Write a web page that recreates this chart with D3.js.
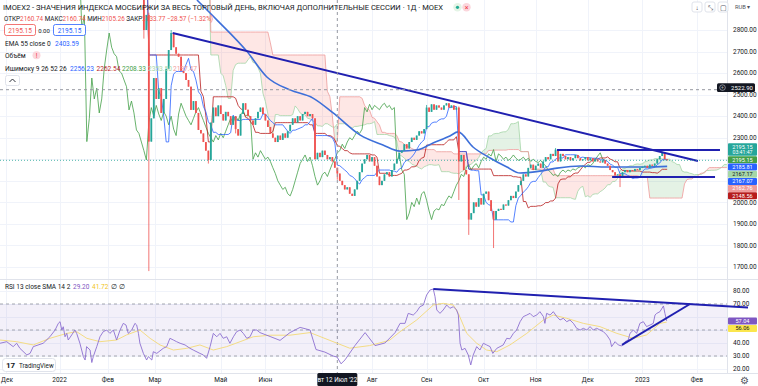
<!DOCTYPE html>
<html lang="ru">
<head>
<meta charset="UTF-8">
<title>IMOEX2 1Д</title>
<script src="https://d3js.org/d3.v7.min.js"></script>
<style>
  body { margin: 0; background: #fff; font-family: Roboto, "Noto Sans", sans-serif; }
  svg { display: block; }
  .ax { font-size: 6.5px; fill: #131722; }
</style>
</head>
<body>
<svg id="chart" width="758" height="386"></svg>
<script>
// daily closes, bar 0 = 1 Dec 2021 (bars before ~56 sit above the visible range)
const closes = [
  3920,3880,3850,3800,3770,3790,3720,3750,3800,3780,3740,3700,3690,3720,3760,3780,3790,3800,3820,3830,3800,3787,
  3850,3870,3880,3860,3840,3860,3880,3900,3800,3650,3500,3450,3300,3350,3250,3400,3450,3500,3480,
  3520,3550,3580,3600,3620,3640,3600,3650,3500,3450,3550,3600,3687,3300,3100,2800,2870,
  2282,2390,2577,2480,2530,2415,2480,2620,2707,2786,2720,2690,2676,2610,2600,2568,2537,2429,2470,2415,
  2336,2320,2280,2240,2197,2370,2440,2400,2450,2410,2380,2420,2400,2360,2400,2340,2310,2410,2460,2430,
  2400,2380,2360,2390,2420,2440,2410,2380,2350,2320,2300,2280,2310,2290,2320,2300,2330,2360,2390,2370,
  2400,2380,2410,2420,2400,2410,2390,2200,2230,2210,2240,2220,2200,2210,2190,2160.74,2133.77,2100,2080,2060,
  2070,2040,2030,2060,2100,2140,2180,2200,2220,2190,2210,2170,2120,2080,2100,2130,2140,2120,2150,2180,
  2200,2230,2240,2270,2250,2280,2300,2290,2310,2330,2320,2340,2440,2420,2455,2430,2450,2440,2430,2450,
  2460,2440,2450,2430,2440,2190,2220,2150,2130,1920,1950,2000,1980,2020,1990,2040,2050,2010,1960,1920,
  1960,1970,1965,1990,1985,2010,2030,2020,2050,2080,2100,2130,2120,2160,2175,2150,2170,2180,2160,2190,
  2210,2200,2225,2215,2245,2190,2225,2215,2200,2210,2195,2205,2220,2205,2195,2200,2210,2195,2205,2190,
  2200,2190,2185,2195,2180,2170,2150,2140,2125,2130,2120,2140,2150,2140,2150,2145,2155,2150,2160,2165,
  2170,2160,2175,2170,2180,2200,2215,2230,2200,2195.15
];
const openFix = {54: 3350};
const highFix = {56: 3120, 58: 2880, 67: 2800, 170: 2452, 183: 2445, 222: 2252, 265: 2236};
const lowFix = {56: 2760, 58: 1681, 82: 2180, 93: 2320, 134: 2105.26, 183: 2011, 187: 1849, 197: 1788, 248: 2071};

// EMA 55: [bar, value]
const emaPts = [[77.4,2939],[85.5,2846],[97.6,2700],[105.6,2582],[114.9,2522],[124.2,2484],[132.3,2415],
  [143.1,2313],[152.4,2266],[159.3,2238],[166.1,2243],[172.6,2276],[179.4,2308],[182.7,2327],[188.7,2257],
  [195.6,2206],[202.4,2164],[207.7,2136],[215.7,2145],[222.6,2159],[231.9,2169],[242.7,2164],[250.8,2164],
  [258.9,2164],[267,2167.07]];

// RSI 13 and its SMA 14: [bar, value]
const rsiPts = [[-2,39.8],[0.7,41],[3.3,37.2],[4.7,39.8],[6,35.9],[8.8,30.8],[10.1,32],[11.4,37.2],[15.4,39.8],
  [18.1,44.8],[20.2,50],[21.5,55.1],[22.2,56.4],[22.9,50],[23.5,52.5],[24.2,44.8],[24.9,47.4],[25.5,42.3],
  [26.9,46.2],[28.2,50],[28.9,47.4],[30.2,39.8],[31.6,29.5],[32.3,26.9],[32.9,37.2],[34.3,34.6],[35,25],
  [35.6,29.5],[37,37.2],[38.3,44.8],[39.6,48.7],[41,50],[42.3,47.4],[43.7,50],[45,42.3],[46.4,50],[47.7,55.1],
  [48.8,53.8],[49.7,47.4],[51.1,50],[52.4,55.1],[53.1,53.8],[53.8,47.4],[54.4,39.8],[55.8,32],[57.1,26.9],
  [57.8,29.5],[59.2,26.9],[59.8,33.3],[61.2,32],[63.8,35.9],[65.2,37.2],[66.5,43.6],[67.9,42.3],[69.2,41],
  [70.6,39.8],[72.6,38.5],[74.6,35.9],[75.9,34.6],[78.6,32],[80,30.8],[81.3,28.2],[82.7,37.2],[84,47.4],
  [85.4,44.8],[86.7,47.4],[88,43.6],[89.4,44.8],[90.7,39.8],[92.1,44.8],[93.4,48.7],[94.8,50],[96.1,47.4],
  [97.5,43.6],[98.8,44.8],[100.1,50],[101.5,50],[102.8,48],[106.9,45],[110.9,42],[114.9,48],[119,52],
  [123,50],[125.4,35],[129,33],[132.3,30],[133.9,29.2],[135.5,24],[137.1,27],[141.1,38],[145.2,48],
  [149.2,38],[153.2,40],[157.3,48],[159.3,55.1],[161.3,55.1],[162.6,62.8],[164.6,61.5],[166,64.1],
  [167.3,67.9],[168.7,69.2],[170,76.9],[171.4,80.8],[172.7,81.5],[173.4,75.6],[174.1,65.4],[175.4,62.8],
  [176.7,65.4],[178.1,69.2],[179.4,66.7],[180.8,67.9],[182.1,65.4],[182.8,61.5],[183.5,39.8],[184.2,34.6],
  [185.5,35.9],[186.8,30.8],[187.8,23.1],[188.8,30.8],[190.2,37.2],[191.5,34.6],[192.9,39.8],[194.2,38.5],
  [195.6,37.2],[196.7,32],[198.3,35.9],[200.9,38.5],[202.3,43.6],[203.6,43.2],[205,47.4],[206.3,50],
  [207.7,56.4],[209,60.3],[210.4,61.5],[211.7,62.8],[213,60.3],[214.4,61.5],[215.7,64.1],[217.1,60.3],
  [217.7,55.1],[218.4,62.8],[219.8,61.5],[221.1,64.1],[222.5,60.3],[223.8,57.7],[225.1,59],[226.5,56.4],
  [227.8,57.7],[229.2,55.1],[230.5,51.3],[231.9,50],[233.2,51.3],[234.6,50],[235.9,52.6],[237.2,50],
  [238.6,51.3],[239.9,50],[241.3,48.7],[242.6,46.2],[244,42.3],[244.6,37.2],[246,41],[247.3,38.5],
  [248.7,37.7],[250,41],[251.3,42.3],[252,47.4],[253.4,50],[254.7,47.4],[256,55.1],[257.4,56.4],
  [258.7,52.6],[260.1,53.8],[261.4,55.1],[262.1,61.5],[262.8,62.8],[264.1,64.1],[265.5,68.5],[266.1,62.8],
  [266.8,57.04]];
const rsiSmaPts = [[-2,42.3],[4.7,41],[11.4,38.5],[18.1,43.6],[24.9,47.4],[28.9,48.7],[33,43.6],[38.3,41],
  [45,42.3],[49,46.2],[54.4,50],[58.5,43.6],[62.5,38.5],[67.9,34.6],[73.3,35.9],[78.6,38.5],[84,34.6],
  [89.4,37.2],[94.8,41],[100.1,44.8],[106.9,46],[114.9,46],[123,48],[131,42],[139,36],[147,38],[155,42],
  [159.3,48.7],[166,57.7],[172.7,69.2],[176.7,70.5],[180.8,69.2],[182.8,62.8],[186.2,47.4],[190.2,39.8],
  [194.2,34.6],[198.3,33.3],[203.6,38.5],[210.4,47.4],[217.1,57.7],[221.1,61.5],[226.5,59],[233.2,55.1],
  [239.9,52.6],[246.7,47.4],[253.4,43.6],[258.7,46.2],[264.1,55.1],[266.8,56.06]];

// drawn trend lines: [bar, value] pairs
const priceLines = [
  [[67.6,2786],[279.4,2192]],
  [[222.6,2243],[288.3,2243]],
  [[244.8,2118],[286.3,2118]]
];
const rsiLines = [
  [[172.7,81.5],[299.6,67.3]],
  [[248.8,38.5],[276.2,70]]
];

const monthLabels = ["Дек","2022","Фев","Мар","Май","Июн","Июл","Авг","Сен","Окт","Ноя","Дек","2023","Фев"];
const monthIdx = [0.5,22,41.5,60.5,87,105,128,148,170,193,214,235,257,279];
const priceTicks = d3.range(1700, 2801, 100);
const rsiTicks = d3.range(20, 81, 10);

// last values on the price scale
const lastLabels = [
  {t: "2195.15", c: "#43a047", tc: "#fff"},
  {t: "2185.81", c: "#2962ff", tc: "#fff"},
  {t: "2167.17", c: "#a5d6a7", tc: "#131722"},
  {t: "2167.07", c: "#2962ff", tc: "#fff"},
  {t: "2162.76", c: "#ef9a9a", tc: "#fff"},
  {t: "2148.56", c: "#b71c1c", tc: "#fff"}
];
const lastPrice = 2195.15, hoverBar = 134, hoverPrice = 2522.90;

const svg = d3.select("#chart");
const mainW = 727, mainH = 279;
const x = d3.scaleLinear().domain([0, 290]).range([5, 724.2]);
const y = d3.scaleLinear().domain([1700, 2800]).range([267, 30]);
const yR = d3.scaleLinear().domain([20, 80]).range([369, 291]);

const bars = closes.map((c, i) => {
  const o = openFix[i] != null ? openFix[i] : (i ? closes[i - 1] : c);
  const h = highFix[i] != null ? highFix[i] : Math.max(o, c);
  const l = lowFix[i] != null ? lowFix[i] : Math.min(o, c);
  return {i, o, h, l, c};
});

function don(len, i) {
  if (i < len - 1) return null;
  let hi = -Infinity, lo = Infinity;
  for (let k = i - len + 1; k <= i; k++) { hi = Math.max(hi, bars[k].h); lo = Math.min(lo, bars[k].l); }
  return (hi + lo) / 2;
}
const tenkan = bars.filter(b => b.i >= 8).map(b => ({i: b.i, v: don(9, b.i)}));
const kijun = bars.filter(b => b.i >= 25).map(b => ({i: b.i, v: don(26, b.i)}));
const cloud = bars.filter(b => b.i >= 51).map(b => ({i: b.i + 25, a: (don(9, b.i) + don(26, b.i)) / 2, b: don(52, b.i)}));
const chikou = bars.map(b => ({i: b.i - 25, v: b.c}));

const defs = svg.append("defs");
defs.append("clipPath").attr("id", "clipMain").append("rect").attr("width", mainW).attr("height", mainH);
defs.append("clipPath").attr("id", "clipRsi").append("rect").attr("y", 280).attr("width", mainW).attr("height", 93);
defs.append("clipPath").attr("id", "aboveB").append("path")
  .attr("d", d3.area().x(d => x(d.i)).y0(0).y1(d => y(d.b))(cloud));
defs.append("clipPath").attr("id", "belowB").append("path")
  .attr("d", d3.area().x(d => x(d.i)).y0(d => y(d.b)).y1(mainH)(cloud));

// grid
const grid = svg.append("g").attr("stroke", "#f0f3fa").attr("stroke-width", 1);
grid.selectAll(".gy").data(priceTicks).join("line")
  .attr("x1", 0).attr("x2", mainW).attr("y1", d => Math.round(y(d)) + 0.5).attr("y2", d => Math.round(y(d)) + 0.5);
grid.selectAll(".gr").data(rsiTicks).join("line")
  .attr("x1", 0).attr("x2", mainW).attr("y1", d => Math.round(yR(d)) + 0.5).attr("y2", d => Math.round(yR(d)) + 0.5);
grid.selectAll(".gx").data(monthIdx).join("line")
  .attr("x1", d => Math.round(x(d)) + 0.5).attr("x2", d => Math.round(x(d)) + 0.5).attr("y1", 0).attr("y2", 373);

// pane borders
svg.append("line").attr("x1", 0).attr("x2", 758).attr("y1", 279.5).attr("y2", 279.5).attr("stroke", "#e0e3eb");
svg.append("line").attr("x1", 727.5).attr("x2", 727.5).attr("y1", 0).attr("y2", 373).attr("stroke", "#e0e3eb");
svg.append("line").attr("x1", 0).attr("x2", 758).attr("y1", 373.5).attr("y2", 373.5).attr("stroke", "#e0e3eb");

const main = svg.append("g").attr("clip-path", "url(#clipMain)");
const line = d3.line().x(d => x(d.i)).y(d => y(d.v));
const between = d3.area().x(d => x(d.i)).y0(d => y(d.a)).y1(d => y(d.b));

main.append("path").attr("d", between(cloud)).attr("fill", "rgba(67,160,71,0.14)").attr("clip-path", "url(#aboveB)");
main.append("path").attr("d", between(cloud)).attr("fill", "rgba(244,67,54,0.13)").attr("clip-path", "url(#belowB)");
main.append("path").attr("d", line(cloud.map(d => ({i: d.i, v: d.a})))).attr("fill", "none").attr("stroke", "#a5d6a7").attr("stroke-width", 0.8);
main.append("path").attr("d", line(cloud.map(d => ({i: d.i, v: d.b})))).attr("fill", "none").attr("stroke", "#ef9a9a").attr("stroke-width", 0.8);
main.append("path").attr("d", line(chikou)).attr("fill", "none").attr("stroke", "#43a047").attr("stroke-width", 0.8);
main.append("path").attr("d", line(kijun)).attr("fill", "none").attr("stroke", "#b71c1c").attr("stroke-width", 0.8);
main.append("path").attr("d", line(tenkan)).attr("fill", "none").attr("stroke", "#2962ff").attr("stroke-width", 0.8);
main.append("path").attr("d", d3.line().curve(d3.curveMonotoneX).x(d => x(d[0])).y(d => y(d[1]))(emaPts))
  .attr("fill", "none").attr("stroke", "#3d6fd9").attr("stroke-width", 1.6);

// candles
const up = "#26a69a", down = "#ef5350";
const cg = main.append("g");
cg.selectAll("line").data(bars).join("line")
  .attr("x1", d => x(d.i)).attr("x2", d => x(d.i))
  .attr("y1", d => y(d.h)).attr("y2", d => y(d.l))
  .attr("stroke", d => d.c >= d.o ? up : down).attr("stroke-width", 0.8);
cg.selectAll("rect").data(bars).join("rect")
  .attr("x", d => x(d.i) - 0.9).attr("width", 1.8)
  .attr("y", d => y(Math.max(d.o, d.c)))
  .attr("height", d => Math.max(0.8, Math.abs(y(d.o) - y(d.c))))
  .attr("fill", d => d.c >= d.o ? up : down);

// trend lines
const pl = d3.line().x(d => x(d[0])).y(d => y(d[1]));
main.selectAll(".tl").data(priceLines).join("path")
  .attr("d", pl).attr("fill", "none").attr("stroke", "#2020b0").attr("stroke-width", 2);

// last price line and crosshair
main.append("line").attr("x1", 0).attr("x2", mainW).attr("y1", y(lastPrice)).attr("y2", y(lastPrice))
  .attr("stroke", up).attr("stroke-dasharray", "1,2").attr("opacity", 0.8);
svg.append("line").attr("x1", 0).attr("x2", 717).attr("y1", y(hoverPrice)).attr("y2", y(hoverPrice))
  .attr("stroke", "#9598a1").attr("stroke-dasharray", "3,3");
svg.append("line").attr("x1", x(hoverBar)).attr("x2", x(hoverBar)).attr("y1", 0).attr("y2", 373)
  .attr("stroke", "#9598a1").attr("stroke-dasharray", "3,3");

// RSI pane
const rsi = svg.append("g").attr("clip-path", "url(#clipRsi)");
rsi.append("rect").attr("x", 0).attr("width", mainW).attr("y", yR(70)).attr("height", yR(30) - yR(70))
  .attr("fill", "rgba(126,87,194,0.09)");
rsi.selectAll(".band").data([70, 50, 30]).join("line")
  .attr("x1", 0).attr("x2", mainW).attr("y1", d => yR(d)).attr("y2", d => yR(d))
  .attr("stroke", "#a3a6af").attr("stroke-dasharray", "3,3");
const rl = d3.line().x(d => x(d[0])).y(d => yR(d[1]));
rsi.append("path").attr("d", rl(rsiSmaPts)).attr("fill", "none").attr("stroke", "#f4dc84").attr("stroke-width", 1);
rsi.append("path").attr("d", rl(rsiPts)).attr("fill", "none").attr("stroke", "#8c6fd0").attr("stroke-width", 0.9);
svg.append("g").selectAll("path").data(rsiLines).join("path")
  .attr("d", rl).attr("fill", "none").attr("stroke", "#2020b0").attr("stroke-width", 2);

// price axis (ticks hidden behind the stacked value labels are left out)
svg.append("g").selectAll("text").data(priceTicks.filter(d => d !== 2100 && d !== 2200)).join("text").attr("class", "ax")
  .attr("x", 733).attr("y", d => y(d) + 2.3).text(d => d.toFixed(2));
svg.append("g").selectAll("text").data(rsiTicks.filter(d => d !== 50 && d !== 60)).join("text").attr("class", "ax")
  .attr("x", 733).attr("y", d => yR(d) + 2.3).text(d => d.toFixed(2));

// stacked last-value labels
const ly0 = y(lastPrice) - 1.5;
svg.append("rect").attr("x", 728).attr("y", ly0 - 15.5).attr("width", 29).attr("height", 12.5).attr("fill", up).attr("rx", 1);
svg.append("text").attr("x", 742.5).attr("y", ly0 - 10.2).attr("text-anchor", "middle").attr("fill", "#fff").attr("font-size", 5.6).text("2195.15");
svg.append("text").attr("x", 742.5).attr("y", ly0 - 4.4).attr("text-anchor", "middle").attr("fill", "#fff").attr("font-size", 5.2).text("03:41:47");
const lg = svg.append("g").selectAll("g").data(lastLabels).join("g")
  .attr("transform", (d, k) => `translate(728,${ly0 - 2.5 + k * 7.2})`);
lg.append("rect").attr("width", 29).attr("height", 7).attr("fill", d => d.c).attr("rx", 1);
lg.append("text").attr("x", 14.5).attr("y", 5.3).attr("text-anchor", "middle").attr("font-size", 5.6)
  .attr("fill", d => d.tc).text(d => d.t);

// RSI last labels
const rsiLast = [{t: "57.04", c: "#7e57c2", tc: "#fff"}, {t: "56.06", c: "#fbe64d", tc: "#131722"}];
svg.append("g").selectAll("g").data(rsiLast).join("g")
  .attr("transform", (d, k) => `translate(728,${317.5 + k * 7.4})`)
  .call(g => {
    g.append("rect").attr("width", 29).attr("height", 7).attr("fill", d => d.c).attr("rx", 1);
    g.append("text").attr("x", 14.5).attr("y", 5.3).attr("text-anchor", "middle").attr("font-size", 5.6)
      .attr("fill", d => d.tc).text(d => d.t);
  });

// crosshair price label
const hy = y(hoverPrice);
svg.append("rect").attr("x", 717).attr("y", hy - 6.5).attr("width", 38).attr("height", 8.8).attr("fill", "#131722").attr("rx", 1.5);
svg.append("circle").attr("cx", 722.5).attr("cy", hy - 2.1).attr("r", 2.8).attr("fill", "none").attr("stroke", "#b2b5be").attr("stroke-width", 0.7);
svg.append("text").attr("x", 722.5).attr("y", hy - 0.3).attr("text-anchor", "middle").attr("fill", "#b2b5be").attr("font-size", 5).text("+");
svg.append("text").attr("x", 742).attr("y", hy).attr("text-anchor", "middle").attr("fill", "#fff").attr("font-size", 6).text(hoverPrice.toFixed(2));

// time axis
const hx = x(hoverBar);
svg.append("g").selectAll("text").data(monthLabels.map((t, k) => ({t, i: monthIdx[k]})).filter(d => Math.abs(x(d.i) - hx) > 25))
  .join("text").attr("class", "ax").attr("x", d => Math.max(7, x(d.i))).attr("y", 382).attr("text-anchor", "middle").text(d => d.t);
svg.append("rect").attr("x", hx - 20).attr("y", 373).attr("width", 40).attr("height", 13).attr("fill", "#131722").attr("rx", 1.5);
svg.append("text").attr("x", hx).attr("y", 382).attr("text-anchor", "middle").attr("fill", "#fff").attr("font-size", 6.3).text("вт 12 Июл '22");
svg.append("text").attr("x", 744).attr("y", 383.5).attr("text-anchor", "middle").attr("font-size", 10).attr("fill", "#50535e").text("⚙");

// legend
const T = (xx, yy, s, opt = {}) => svg.append("text").attr("x", xx).attr("y", yy)
  .attr("font-size", opt.fs || 7).attr("fill", opt.c || "#131722").text(s);
T(3, 10, "IMOEX2 - ЗНАЧЕНИЯ ИНДЕКСА МОСБИРЖИ ЗА ВЕСЬ ТОРГОВЫЙ ДЕНЬ, ВКЛЮЧАЯ ДОПОЛНИТЕЛЬНЫЕ СЕССИИ · 1Д · MOEX", {fs: 7.3})
  .attr("textLength", 440).attr("lengthAdjust", "spacingAndGlyphs");
svg.append("circle").attr("cx", 457.5).attr("cy", 7.3).attr("r", 4.2).attr("fill", "#e4f4e6");
svg.append("circle").attr("cx", 457.5).attr("cy", 7.3).attr("r", 1.6).attr("fill", "#22ab94");
svg.append("circle").attr("cx", 466.5).attr("cy", 7.3).attr("r", 4.2).attr("fill", "#fbd6dc");
T(466.5, 9.5, "×", {fs: 7, c: "#f23645"}).attr("text-anchor", "middle");

const l2 = T(4, 20.5, "", {fs: 6.4}).attr("textLength", 209).attr("lengthAdjust", "spacingAndGlyphs");
[["ОТКР", "#131722"], ["2160.74", "#ef5350"], [" МАКС", "#131722"], ["2160.74", "#ef5350"], [" МИН", "#131722"],
 ["2105.26", "#ef5350"], [" ЗАКР", "#131722"], ["2133.77", "#ef5350"], [" −28.57 (−1.32%)", "#ef5350"]]
  .forEach(([s, c]) => l2.append("tspan").attr("fill", c).text(s));

svg.append("rect").attr("x", 4.5).attr("y", 24.5).attr("width", 31).attr("height", 11).attr("rx", 2).attr("fill", "#fff").attr("stroke", "#ef5350").attr("stroke-width", 0.8);
T(20, 32.5, "2195.15", {fs: 6.5, c: "#ef5350"}).attr("text-anchor", "middle");
T(44, 32.5, "0.00", {fs: 6}).attr("text-anchor", "middle");
svg.append("rect").attr("x", 53.5).attr("y", 24.5).attr("width", 32).attr("height", 11).attr("rx", 2).attr("fill", "#fff").attr("stroke", "#2962ff").attr("stroke-width", 0.8);
T(69.5, 32.5, "2195.15", {fs: 6.5, c: "#2962ff"}).attr("text-anchor", "middle");

T(5, 45.5, "EMA 55 close 0", {fs: 6.6});
T(55, 45.5, "2403.59", {fs: 6.6, c: "#2962ff"});
T(5, 57.5, "Объём", {fs: 6.6});
svg.append("circle").attr("cx", 36.5).attr("cy", 55.3).attr("r", 4).attr("fill", "#fbd6dc");
T(36.5, 57.8, "!", {fs: 6.5, c: "#f23645"}).attr("text-anchor", "middle");
T(5, 70.5, "Ишимоку 9 26 52 26", {fs: 6.6});
[["2256.23", 70, "#2962ff"], ["2262.54", 96.5, "#b71c1c"], ["2208.33", 122, "#43a047"], ["2353.50", 148, "#a5d6a7"], ["2197.47", 173, "#ef9a9a"]]
  .forEach(([s, xx, c]) => T(xx, 70.5, s, {fs: 6.6, c}));
svg.append("rect").attr("x", 5.5).attr("y", 75.5).attr("width", 14).attr("height", 10).attr("rx", 2).attr("fill", "#fff").attr("stroke", "#e0e3eb");
svg.append("path").attr("d", "M9.5,82 L12.5,79 L15.5,82").attr("fill", "none").attr("stroke", "#131722").attr("stroke-width", 0.9);

T(5, 288.5, "RSI 13 close SMA 14 2", {fs: 6.5});
T(73, 288.5, "29.20", {fs: 6.5, c: "#7e57c2"});
T(92, 288.5, "41.72", {fs: 6.5, c: "#f0c419"});
T(111, 288.5, "∅ ∅", {fs: 6.5, c: "#131722"});

// top-right controls
[697, 710, 723].forEach((xx, k) => {
  svg.append("rect").attr("x", xx - 5).attr("y", 2).attr("width", 10).attr("height", 10).attr("rx", 2)
    .attr("fill", "#fff").attr("stroke", "#e0e3eb");
  T(xx, 9.5, ["↓", "⤡", "▢"][k], {fs: 6.5, c: "#50535e"}).attr("text-anchor", "middle");
});
T(735, 9, "RUB ▾", {fs: 5.8, c: "#50535e"});

// TradingView mark
svg.append("rect").attr("x", 2.5).attr("y", 358.5).attr("width", 53).attr("height", 13).attr("rx", 3)
  .attr("fill", "#fff").attr("stroke", "#e0e3eb");
T(6, 368, "17", {fs: 8, c: "#131722"}).attr("font-weight", "bold");
T(19, 367.5, "TradingView", {fs: 6.3, c: "#131722"});
</script>
</body>
</html>
